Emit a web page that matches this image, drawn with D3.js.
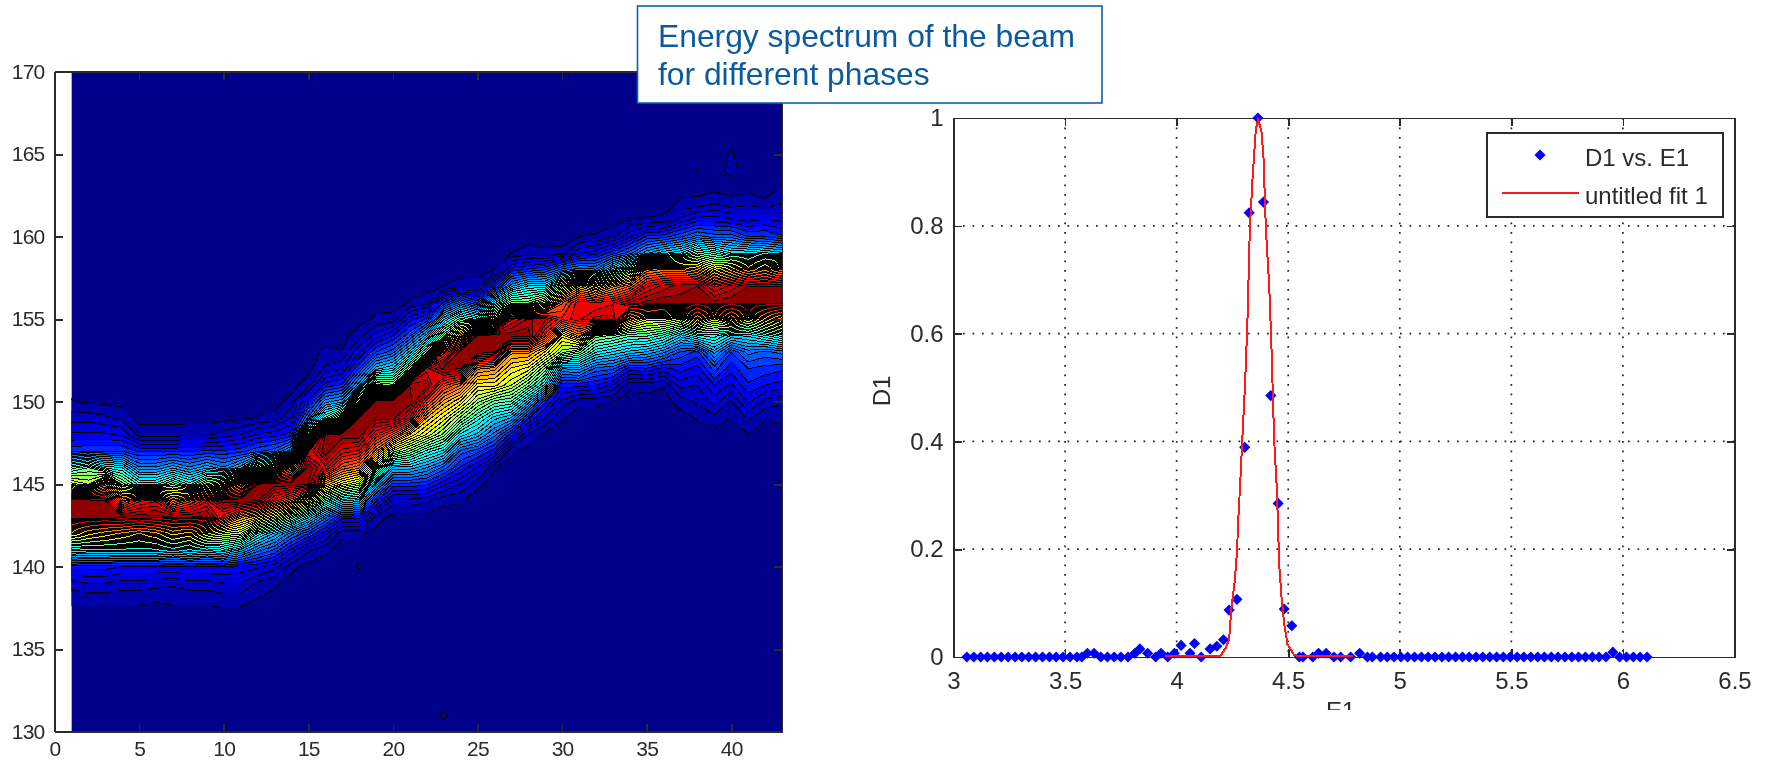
<!DOCTYPE html>
<html>
<head>
<meta charset="utf-8">
<script src="https://cdn.jsdelivr.net/npm/d3@7"></script>
<style>
  html, body { margin: 0; padding: 0; background: #fff; }
  svg { display: block; filter: blur(0.5px); }
  .axis path, .axis line { stroke: #2b2b2b; stroke-width: 1.6; shape-rendering: crispEdges; }
  .axis text { fill: #2b2b2b; font-family: "Liberation Sans", Arial, sans-serif; }
  .left .axis text { font-size: 21px; letter-spacing: -0.8px; }
  .right .axis text { font-size: 24px; }
  .grid line { stroke: #222; stroke-width: 1.7; stroke-dasharray: 1.7 7.8; }
  .legend text, .label { font-family: "Liberation Sans", Arial, sans-serif; font-size: 24px; fill: #2b2b2b; }
</style>
</head>
<body>
<svg id="chart" width="1766" height="760"></svg>
<script>
// left panel: beam intensity (percent of peak), one profile per phase step
// each profile starts at profileStart[i] and goes up one unit per value
const phaseSteps = d3.range(1, 44)
const energyRows = d3.range(130, 171)
const profileStart = [
  138, 138, 138, 138, 138, 138, 138, 138, 138, 138,
  138, 138, 139, 140, 141, 141, 142, 142, 143, 144,
  144, 144, 144, 144, 145, 146, 147, 148, 149, 149,
  150, 150, 150, 151, 151, 151, 150, 149, 149, 149,
  148, 149, 149
]
const profiles = [
  [1.5, 5, 12, 37, 62, 98, 98, 60, 42, 15, 9, 5, 1.2],
  [1.5, 6, 12, 36, 66, 98, 98, 56, 46, 16, 9, 5, 0.6],
  [1.6, 6, 12, 36, 68, 98, 96, 72, 38, 16, 9, 4, 0.4],
  [1.6, 5, 11, 36, 70, 97, 76, 50, 36, 16, 8, 3],
  [1.5, 5, 11, 36, 72, 98, 85, 40, 24, 13, 2.5],
  [1.2, 4.5, 11, 36, 70, 97, 88, 40, 24, 13, 2.5],
  [1.5, 4, 11, 34, 66, 96, 72, 48, 28, 13, 2.5],
  [1.6, 5, 11, 36, 68, 96, 80, 40, 24, 13, 3],
  [1.5, 5, 11, 34, 60, 97, 88, 52, 28, 14, 3],
  [2, 6, 11, 36, 56, 84, 98, 58, 24, 14, 4.5, 0.2],
  [1.8, 6, 10, 30, 54, 72, 98, 72, 30, 15, 6, 0.5],
  [0.8, 3, 9, 22, 38, 66, 96, 96, 48, 18, 9, 1.2],
  [1.5, 7, 18, 30, 58, 85, 98, 58, 20, 10, 2],
  [1.8, 10, 22, 46, 76, 98, 75, 28, 12, 6, 2],
  [4, 16, 34, 62, 96, 98, 88, 48, 22, 12, 2.5],
  [1.4, 9, 22, 44, 68, 90, 98, 96, 42, 25, 12, 4, 1.5],
  [1.5, 12, 34, 60, 78, 90, 98, 55, 28, 14, 6, 1.2],
  [1.5, 12, 32, 55, 74, 88, 98, 97, 55, 28, 16, 8, 2.5],
  [2.5, 14, 30, 52, 72, 86, 97, 98, 55, 30, 16, 7, 1.5],
  [5, 15, 30, 55, 78, 97, 98, 52, 34, 20, 11, 1.8],
  [5, 15, 30, 48, 66, 88, 98, 96, 50, 32, 18, 10, 1.2],
  [4, 14, 26, 40, 58, 68, 82, 95, 90, 48, 30, 14, 2.5],
  [1.5, 9, 20, 35, 50, 60, 70, 82, 97, 82, 50, 33, 14, 1],
  [1.2, 6, 13, 20, 35, 50, 63, 76, 96, 98, 70, 45, 22, 2],
  [1.5, 8, 17, 30, 40, 52, 62, 74, 98, 96, 40, 15, 2],
  [1.2, 12, 22, 32, 45, 62, 72, 96, 98, 62, 35, 12, 1],
  [1.5, 12, 28, 43, 56, 63, 72, 98, 88, 50, 28, 12, 1],
  [3, 14, 30, 47, 60, 72, 98, 94, 50, 34, 14, 2],
  [6, 14, 35, 48, 63, 82, 92, 58, 34, 16, 1.5],
  [1.2, 5, 12, 26, 52, 62, 84, 78, 52, 22, 1.8],
  [1.5, 12, 27, 47, 72, 88, 88, 68, 25, 8, 1],
  [1.5, 11, 20, 36, 50, 92, 86, 60, 24, 10, 1.2],
  [1, 8, 19, 33, 48, 92, 88, 70, 36, 15, 3],
  [1.5, 12, 30, 44, 68, 94, 76, 50, 20, 8, 1],
  [2, 13, 28, 44, 60, 97, 88, 72, 28, 14, 1.2],
  [1.2, 10, 24, 40, 60, 98, 92, 74, 33, 15, 1.5],
  [2, 7, 12, 18, 32, 56, 97, 95, 74, 36, 18, 7, 1.5],
  [1.2, 4, 6, 10, 15, 38, 68, 98, 96, 70, 45, 22, 10, 1.8],
  [2.5, 7, 11, 17, 27, 40, 58, 97, 88, 60, 42, 20, 10, 3.5],
  [1, 3, 8, 12, 16, 33, 68, 98, 92, 66, 36, 20, 9, 1.8],
  [1, 4, 9, 13, 16, 22, 34, 58, 98, 96, 72, 36, 16, 8, 3],
  [1.2, 5, 11, 15, 20, 38, 66, 98, 96, 68, 34, 16, 9, 1.4],
  [1.5, 4, 10, 14, 22, 42, 72, 98, 96, 74, 32, 14, 8, 3.5, 1.2]
]
// isolated little islands away from the beam: step, energy, value
const specks = [
  [18, 140, 1.2], [23, 131, 1.3], [38, 164, 1.1], [40, 164, 1.6], [40, 165, 1.2]
]
const levels = d3.range(1, 100, 2.5)
const leftXTicks = [0, 5, 10, 15, 20, 25, 30, 35, 40]
const leftYTicks = [130, 135, 140, 145, 150, 155, 160, 165, 170]

// right panel: spectrum of one phase and its fit
const E1 = [
  3.06, 3.091, 3.122, 3.152, 3.183, 3.214, 3.245, 3.276, 3.306, 3.337,
  3.368, 3.399, 3.43, 3.46, 3.491, 3.522, 3.553, 3.575, 3.6, 3.63,
  3.66, 3.69, 3.72, 3.75, 3.782, 3.813, 3.835, 3.87, 3.906, 3.93,
  3.96, 3.99, 4.02, 4.06, 4.08, 4.11, 4.15, 4.18, 4.21, 4.235,
  4.27, 4.305, 4.325, 4.364, 4.389, 4.422, 4.455, 4.482, 4.516, 4.55,
  4.566, 4.61, 4.636, 4.67, 4.705, 4.735, 4.78, 4.82, 4.855, 4.877,
  4.914, 4.944, 4.974, 5.005, 5.035, 5.066, 5.097, 5.127, 5.158, 5.189,
  5.219, 5.25, 5.281, 5.311, 5.342, 5.372, 5.403, 5.434, 5.464, 5.495,
  5.526, 5.556, 5.587, 5.618, 5.648, 5.679, 5.709, 5.74, 5.771, 5.801,
  5.832, 5.863, 5.893, 5.924, 5.955, 5.985, 6.016, 6.047, 6.077, 6.108
]
const D1 = [
  0, 0, 0, 0, 0, 0, 0, 0, 0, 0,
  0, 0, 0, 0, 0, 0, 0, 0, 0.007, 0.007,
  0, 0, 0, 0, 0, 0.007, 0.015, 0.007, 0, 0.007,
  0, 0.007, 0.0215, 0.007, 0.025, 0, 0.015, 0.02, 0.032, 0.087,
  0.107, 0.389, 0.824, 1, 0.844, 0.485, 0.285, 0.089, 0.058, 0,
  0, 0, 0.007, 0.007, 0, 0, 0, 0.007, 0, 0,
  0, 0, 0, 0, 0, 0, 0, 0, 0, 0,
  0, 0, 0, 0, 0, 0, 0, 0, 0, 0,
  0, 0, 0, 0, 0, 0, 0, 0, 0, 0,
  0, 0, 0, 0, 0.009, 0, 0, 0, 0, 0
]
const fitE = [
  3.95, 4.196, 4.22, 4.235, 4.245, 4.26, 4.27, 4.277, 4.284, 4.295,
  4.307, 4.317, 4.328, 4.34, 4.355, 4.365, 4.38, 4.389, 4.4, 4.415,
  4.425, 4.437, 4.449, 4.46, 4.47, 4.482, 4.497, 4.527, 4.54, 4.79
]
const fitD = [
  0, 0, 0.015, 0.03, 0.087, 0.137, 0.19, 0.26, 0.313, 0.409,
  0.508, 0.618, 0.792, 0.885, 0.977, 0.995, 0.974, 0.927, 0.792, 0.686,
  0.572, 0.401, 0.309, 0.167, 0.11, 0.06, 0.021, 0.002, 0, 0
]
const rightXTicks = [3, 3.5, 4, 4.5, 5, 5.5, 6, 6.5]
const rightYTicks = [0, 0.2, 0.4, 0.6, 0.8, 1]
const legendLabels = ["D1 vs. E1", "untitled fit 1"]
const titleLines = ["Energy spectrum of the beam", "for different phases"]

const svg = d3.select("#chart")

// matlab jet, from navy through cyan and yellow to dark red
const jet = d3.scaleLinear()
  .domain([0, 0.125, 0.375, 0.625, 0.875, 1])
  .range(["#00008a", "#0000ff", "#00ffff", "#ffff00", "#ff0000", "#800000"])
  .clamp(true)

drawContours()
drawSpectrum()
drawTitle()

function addAxes(g, x, y, xTicks, yTicks, pad) {
  const [x0, x1] = x.range()
  const [y0, y1] = y.range()

  g.append("g")
    .attr("class", "axis")
    .attr("transform", "translate(0," + y0 + ")")
    .call(d3.axisBottom(x).tickValues(xTicks).tickFormat(d3.format("~g")).tickSize(-8).tickSizeOuter(0).tickPadding(pad))
  g.append("g")
    .attr("class", "axis")
    .attr("transform", "translate(" + x0 + ",0)")
    .call(d3.axisLeft(y).tickValues(yTicks).tickFormat(d3.format("~g")).tickSize(-8).tickSizeOuter(0).tickPadding(10))
  g.append("g")
    .attr("class", "axis")
    .attr("transform", "translate(0," + y1 + ")")
    .call(d3.axisTop(x).tickValues(xTicks).tickFormat("").tickSize(-8).tickSizeOuter(0))
  g.append("g")
    .attr("class", "axis")
    .attr("transform", "translate(" + x1 + ",0)")
    .call(d3.axisRight(y).tickValues(yTicks).tickFormat("").tickSize(-8).tickSizeOuter(0))
}

function drawContours() {
  const g = svg.append("g").attr("class", "left")
  const x = d3.scaleLinear().domain([0, 43]).range([54.5, 782])
  const y = d3.scaleLinear().domain([130, 170]).range([731.7, 71.7])

  // fill the grid from the profiles, everything else stays at zero
  const n = phaseSteps.length
  const m = energyRows.length
  const grid = new Array(n * m).fill(0)
  profiles.forEach((profile, i) => {
    profile.forEach((v, k) => {
      grid[i + (profileStart[i] - energyRows[0] + k) * n] = v
    })
  })
  specks.forEach(([step, row, v]) => {
    grid[step - 1 + (row - energyRows[0]) * n] = v
  })

  const contours = d3.contours().size([n, m]).thresholds(levels)(grid)

  // d3 puts grid point i at i + 0.5
  const path = d3.geoPath(d3.geoTransform({
    point: function(px, py) {
      this.stream.point(x(phaseSteps[0] + px - 0.5), y(energyRows[0] + py - 0.5))
    }
  }))

  svg.append("clipPath")
    .attr("id", "contourClip")
    .append("rect")
    .attr("x", x(1))
    .attr("y", y(170))
    .attr("width", x(43) - x(1))
    .attr("height", y(130) - y(170))

  const plot = g.append("g").attr("clip-path", "url(#contourClip)")

  plot.append("rect")
    .attr("x", x(1))
    .attr("y", y(170))
    .attr("width", x(43) - x(1))
    .attr("height", y(130) - y(170))
    .attr("fill", jet(0))

  plot.selectAll("path")
    .data(contours)
    .join("path")
    .attr("d", path)
    .attr("fill", d => jet(d.value / 100 + 0.025))
    .attr("stroke", "#000")
    .attr("stroke-width", 1)
    .attr("shape-rendering", "crispEdges")

  addAxes(g, x, y, leftXTicks, leftYTicks, 9)
}

function drawSpectrum() {
  const g = svg.append("g").attr("class", "right")
  const x = d3.scaleLinear().domain([3, 6.5]).range([953.5, 1734.5])
  const y = d3.scaleLinear().domain([0, 1]).range([657, 118])

  const grid = g.append("g").attr("class", "grid")
  grid.selectAll(".gx")
    .data(rightXTicks.slice(1, -1))
    .join("line")
    .attr("x1", d => x(d))
    .attr("x2", d => x(d))
    .attr("y1", y(1))
    .attr("y2", y(0))
  grid.selectAll(".gy")
    .data(rightYTicks.slice(1, -1))
    .join("line")
    .attr("class", "gy")
    .attr("x1", x(3))
    .attr("x2", x(6.5))
    .attr("y1", d => y(d))
    .attr("y2", d => y(d))

  addAxes(g, x, y, rightXTicks, rightYTicks, 15)

  const diamond = d3.symbol(d3.symbolSquare, 62)

  g.selectAll(".point")
    .data(E1)
    .join("path")
    .attr("class", "point")
    .attr("d", diamond)
    .attr("transform", (d, i) => "translate(" + x(d) + "," + y(D1[i]) + ") rotate(45)")
    .attr("fill", "#0000ff")

  const line = d3.line()
    .x(d => x(d))
    .y((d, i) => y(fitD[i]) - 1)

  g.append("path")
    .datum(fitE)
    .attr("d", line)
    .attr("fill", "none")
    .attr("stroke", "#ff1a1a")
    .attr("stroke-width", 2)
    .attr("shape-rendering", "crispEdges")

  g.append("text")
    .attr("class", "label")
    .attr("transform", "translate(890,391) rotate(-90)")
    .attr("text-anchor", "middle")
    .text("D1")

  // the x label is cut off by the slide in the original
  svg.append("clipPath")
    .attr("id", "labelClip")
    .append("rect")
    .attr("x", 1300)
    .attr("y", 690)
    .attr("width", 90)
    .attr("height", 20)
  g.append("text")
    .attr("class", "label")
    .attr("clip-path", "url(#labelClip)")
    .attr("x", 1326)
    .attr("y", 719)
    .text("E1")

  const legend = g.append("g").attr("class", "legend")
  legend.append("rect")
    .attr("x", 1487)
    .attr("y", 133)
    .attr("width", 236)
    .attr("height", 84)
    .attr("fill", "#fff")
    .attr("stroke", "#2b2b2b")
    .attr("stroke-width", 1.6)
    .attr("shape-rendering", "crispEdges")
  legend.append("path")
    .attr("d", diamond)
    .attr("transform", "translate(1540,155) rotate(45)")
    .attr("fill", "#0000ff")
  legend.append("line")
    .attr("x1", 1502)
    .attr("x2", 1579)
    .attr("y1", 193)
    .attr("y2", 193)
    .attr("stroke", "#ff1a1a")
    .attr("stroke-width", 2)
  legend.selectAll("text")
    .data(legendLabels)
    .join("text")
    .attr("x", 1585)
    .attr("y", (d, i) => 166 + i * 38)
    .text(d => d)
}

function drawTitle() {
  const g = svg.append("g")
  g.append("rect")
    .attr("x", 637.5)
    .attr("y", 6)
    .attr("width", 464.5)
    .attr("height", 97)
    .attr("fill", "#fff")
    .attr("stroke", "#0f5fa8")
    .attr("stroke-width", 1.6)
  g.selectAll("text")
    .data(titleLines)
    .join("text")
    .attr("x", 658)
    .attr("y", (d, i) => 47 + i * 37.5)
    .attr("font-family", "Liberation Sans, Arial, sans-serif")
    .attr("font-size", 31.8)
    .attr("fill", "#0b5a9f")
    .text(d => d)
}
</script>
</body>
</html>
